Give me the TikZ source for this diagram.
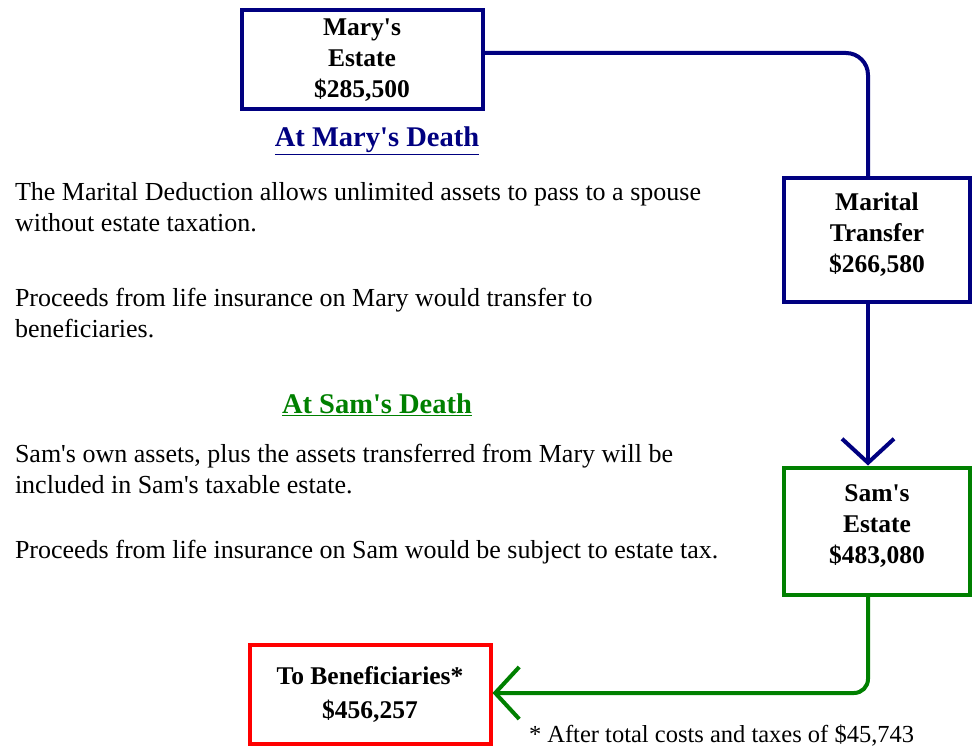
\documentclass[tikz,border=0pt]{standalone}
\usepackage{fontspec}
\setmainfont{Liberation Serif}
\usetikzlibrary{arrows.meta}
\definecolor{marynavy}{RGB}{0,0,128}
\definecolor{samgreen}{RGB}{0,128,0}
\newcommand{\ap}{\textquotesingle}
\begin{document}
\begin{tikzpicture}[x=1pt,y=-1pt,line width=4pt,
    box/.style={draw,rectangle,inner sep=0pt,align=center,
      font=\fontsize{25.5}{31}\selectfont\bfseries},
    note/.style={anchor=west,align=left,inner sep=0pt,
      font=\fontsize{26}{30.5}\selectfont},
    head/.style={inner sep=0pt,font=\fontsize{28.5}{30}\selectfont\bfseries},
    barb/.style={-{Straight Barb[length=24pt,width=52pt]}}]
  \useasboundingbox (0,0) rectangle (977,749);
  % boxes
  \node[box,marynavy,minimum width=241pt,minimum height=99pt,text=black] (mary) at (362,60) {Mary\ap s\\Estate\\\$285,500};
  \node[box,marynavy,minimum width=186pt,minimum height=124pt,text=black,text depth=14pt] (marital) at (877,240) {Marital\\Transfer\\\$266,580};
  \node[box,samgreen,minimum width=186pt,minimum height=127pt,text=black,text depth=14pt] (sam) at (877,531) {Sam\ap s\\Estate\\\$483,080};
  \node[box,red,minimum width=241pt,minimum height=99pt,text=black] (benef) at (370,694) {To Beneficiaries*\\[3pt]\$456,257};
  % headings and notes
  \node[head,marynavy] (maryhead) at (377,141) {\underline{At Mary\ap s Death}};
  \node[note] (deduct) at (13,207) {The Marital Deduction allows unlimited assets to pass to a spouse\\without estate taxation.};
  \node[note] (maryins) at (13,313) {Proceeds from life insurance on Mary would transfer to\\beneficiaries.};
  \node[head,samgreen] (samhead) at (377,405) {\underline{At Sam\ap s Death}};
  \node[note] (samown) at (13,469) {Sam\ap s own assets, plus the assets transferred from Mary will be\\included in Sam\ap s taxable estate.};
  \node[note] (samins) at (13,552) {Proceeds from life insurance on Sam would be subject to estate tax.};
  \node[note,font=\fontsize{24.5}{26}\selectfont] (costs) at (527,736) {* After total costs and taxes of \$45,743};
  % connectors
  \draw[marynavy,rounded corners=22pt] ([yshift=7pt]mary.east) -| ([xshift=-9pt]marital.north);
  \draw[marynavy,barb] ([xshift=-9pt]marital.south) -- ([xshift=-9pt]sam.north);
  \draw[samgreen,barb,rounded corners=14pt] ([xshift=-9pt]sam.south) |- ([yshift=1pt]benef.east);
\end{tikzpicture}
\end{document}
